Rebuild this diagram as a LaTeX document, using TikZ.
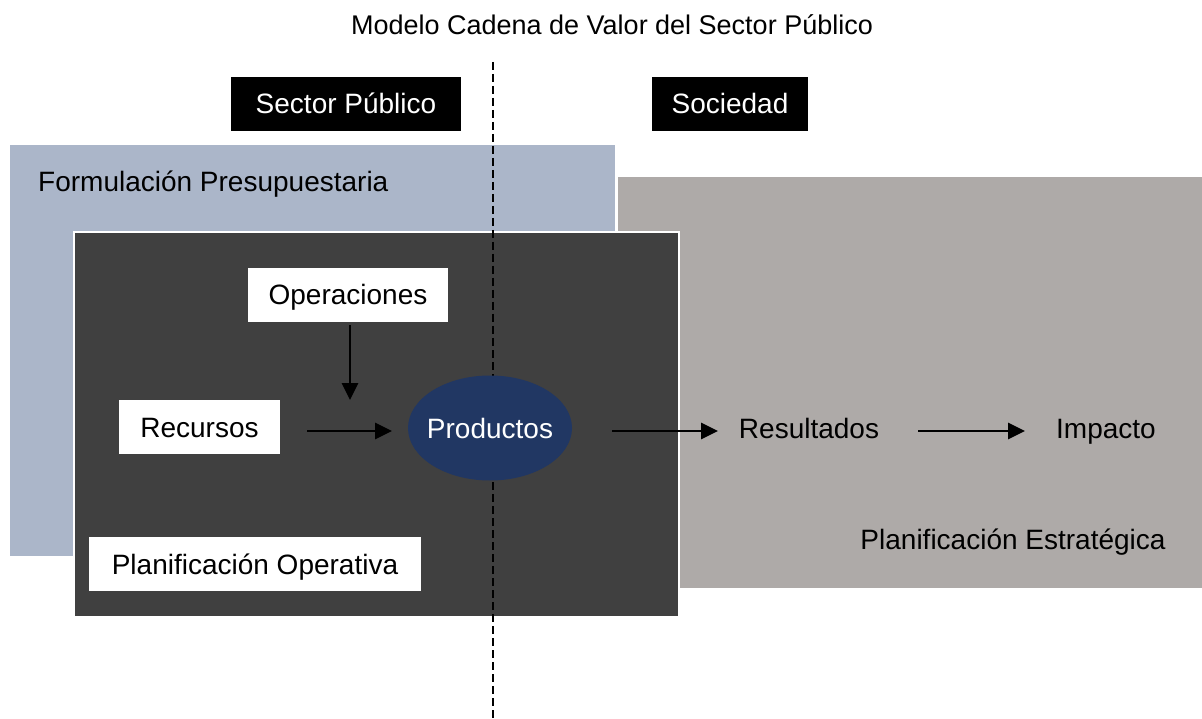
\documentclass[tikz,border=0pt]{standalone}
\usepackage{fontspec}
\setmainfont{Liberation Sans}
\usetikzlibrary{arrows.meta,shapes.geometric}
\definecolor{bluegray}{HTML}{ABB6C9}
\definecolor{warmgray}{HTML}{AEAAA8}
\definecolor{darkbox}{HTML}{404040}
\definecolor{navy}{HTML}{213763}
\tikzset{
  txt/.style={font=\fontsize{28}{32}\selectfont, inner sep=0pt, text height=20pt, text depth=0pt},
  whitebox/.style={txt, fill=white, draw=none, minimum height=54pt},
  blackbox/.style={txt, fill=black, text=white, minimum height=54pt},
  arr/.style={line width=2.8pt, -{Triangle[length=17pt,width=16pt]}},
}
\begin{document}
\begin{tikzpicture}[x=1pt,y=-1pt]
\useasboundingbox[fill=white] (0,0) rectangle (1202,719);
% title
\node[txt, font=\fontsize{27}{31}\selectfont] (title) at (612,25) {Modelo Cadena de Valor del Sector Público};
% header boxes
\node[blackbox, minimum width=230pt] (sp) at (346,104) {Sector Público};
\node[blackbox, minimum width=156pt] (soc) at (730,104) {Sociedad};
% background areas
\fill[bluegray] (10,145) rectangle (615,556);
\fill[warmgray] (618,177) rectangle (1202,588);
\draw[darkbox, fill=darkbox] (74,232) rectangle (679,617);
\draw[white, line width=2pt] (74,232) rectangle (679,617);
\node[txt, anchor=west] (formu) at (38,182) {Formulación Presupuestaria};
\node[txt] (pe) at (1013,539) {Planificación Estratégica};
% dashed divider
\coordinate (dtop) at (493,62);
\coordinate (dbot) at (493,719);
\draw[line width=2.8pt, dash pattern=on 8pt off 4pt] (dtop) -- (dbot);
% inner boxes
\node[whitebox, minimum width=200pt] (ops) at (348,295) {Operaciones};
\node[whitebox, minimum width=161pt] (rec) at (199.5,427) {Recursos};
\node[whitebox, minimum width=332pt] (po) at (255,564) {Planificación Operativa};
\node[ellipse, fill=navy, inner sep=0pt, minimum width=164pt, minimum height=105pt] (prod) at (490,428) {};
\node[txt, text=white] (prodlbl) at (prod.center) {Productos};
\node[txt] (res) at (809,428) {Resultados};
\node[txt] (imp) at (1106,428) {Impacto};
% arrows
\coordinate (opsend) at (350,400);
\draw[arr] (ops.south -| opsend) ++(0,3) -- (opsend);
\coordinate (r1) at (307,431);
\coordinate (r2) at (392,431);
\draw[arr] (r1) -- (r2);
\coordinate (p1) at (612,431);
\coordinate (p2) at (718,431);
\draw[arr] (p1) -- (p2);
\coordinate (q1) at (918,431);
\coordinate (q2) at (1025,431);
\draw[arr] (q1) -- (q2);
\end{tikzpicture}
\end{document}
